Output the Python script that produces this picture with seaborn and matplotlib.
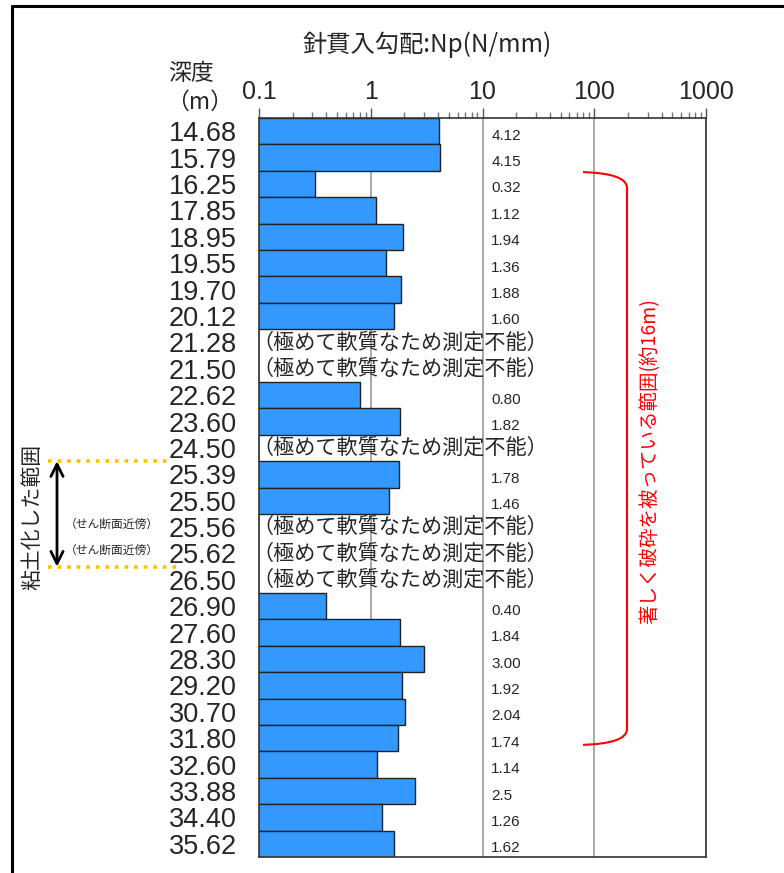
import numpy as np
import pandas as pd
import matplotlib
matplotlib.use("Agg")
import matplotlib.pyplot as plt
import matplotlib.transforms as mtransforms
from matplotlib.path import Path
from matplotlib.patches import PathPatch
from matplotlib.lines import Line2D
from matplotlib.ticker import LogLocator, NullFormatter
import seaborn as sns

# depth (m) of each sample, top to bottom
depths = ["14.68", "15.79", "16.25", "17.85", "18.95", "19.55", "19.70", "20.12",
          "21.28", "21.50", "22.62", "23.60", "24.50", "25.39", "25.50", "25.56",
          "25.62", "26.50", "26.90", "27.60", "28.30", "29.20", "30.70", "31.80",
          "32.60", "33.88", "34.40", "35.62"]
# needle penetration gradient Np (N/mm); nan = too soft to measure
np_values = [4.12, 4.15, 0.32, 1.12, 1.94, 1.36, 1.88, 1.60,
             np.nan, np.nan, 0.80, 1.82, np.nan, 1.78, 1.46, np.nan,
             np.nan, np.nan, 0.40, 1.84, 3.00, 1.92, 2.04, 1.74,
             1.14, 2.5, 1.26, 1.62]
value_labels = ["4.12", "4.15", "0.32", "1.12", "1.94", "1.36", "1.88", "1.60",
                "", "", "0.80", "1.82", "", "1.78", "1.46", "",
                "", "", "0.40", "1.84", "3.00", "1.92", "2.04", "1.74",
                "1.14", "2.5", "1.26", "1.62"]
x_ticks = [0.1, 1, 10, 100, 1000]
x_tick_labels = ["0.1", "1", "10", "100", "1000"]

df = pd.DataFrame({"depth": depths, "np": np_values})

sns.set_theme(style="white")
plt.rcParams['font.family'] = ['Liberation Sans', 'Noto Sans CJK JP']
cjk = ['Noto Sans CJK JP', 'DejaVu Sans']

W, H = 784, 873
fig = plt.figure(figsize=(W / 100, H / 100), dpi=100)
ax = fig.add_axes([259 / W, 1 - 857 / H, (706 - 259) / W, (857 - 118) / H])
ax.set_xscale('log')

sns.barplot(data=df.dropna(), x="np", y="depth", order=depths, orient="h",
            color="#3399FF", saturation=1, width=1.0,
            edgecolor="#222222", linewidth=1.0, ax=ax)

ax.set_xlim(0.1, 1000)
ax.set_ylim(len(depths) - 0.5, -0.5)
ax.set_xlabel("")
ax.set_ylabel("")

ax.xaxis.tick_top()
ax.set_xticks(x_ticks)
ax.set_xticklabels(x_tick_labels)
ax.xaxis.set_minor_locator(LogLocator(base=10, subs=np.arange(2, 10)))
ax.xaxis.set_minor_formatter(NullFormatter())
ax.tick_params(axis='x', which='major', direction='out', length=7, width=1,
               color='#555555', labelsize=18, pad=3, top=True, bottom=False)
ax.tick_params(axis='x', which='minor', direction='out', length=4, width=1,
               color='#777777', top=True, bottom=False)
ax.tick_params(axis='y', length=0, labelsize=19.5, pad=16)

ax.set_axisbelow(True)
ax.grid(axis='x', which='major', color='#999999', linewidth=1.2)
ax.grid(axis='y', visible=False)
for s in ax.spines.values():
    s.set_color('#333333')
    s.set_linewidth(1.2)

# value labels / unmeasurable notes
for i, (v, lab) in enumerate(zip(np_values, value_labels)):
    if np.isnan(v):
        ax.text(0.087, i, "（極めて軟質なため測定不能）", fontsize=15.2,
                va='center', ha='left', family=cjk)
    else:
        ax.text(12, i + 0.17, lab, fontsize=11, va='center', ha='left')

# header texts
fig.text(427 / W, 1 - 45 / H, "針貫入勾配:Np(N/mm)", ha='center', va='center',
         fontsize=17.5, family=cjk)
fig.text(191 / W, 1 - 74 / H, "深度", ha='center', va='center', fontsize=16.5, family=cjk)
fig.text(200 / W, 1 - 102 / H, "（m）", ha='center', va='center', fontsize=16.5, family=cjk)

# clay zone annotation on the left
trans_l = mtransforms.blended_transform_factory(fig.transFigure, ax.transData)
for yb, x_end in [(12.5, 172), (16.5, 176)]:
    ax.add_line(Line2D([48 / W, x_end / W], [yb, yb], transform=trans_l,
                       color='#FFC000', linestyle=':', linewidth=2.6, clip_on=False))
ax.annotate("", xy=(57 / W, 12.5), xytext=(57 / W, 16.5), xycoords=trans_l,
            textcoords=trans_l, annotation_clip=False,
            arrowprops=dict(arrowstyle='<->', color='black', lw=2,
                            mutation_scale=22, shrinkA=0, shrinkB=0))
ax.text(32 / W, 14.6, "粘土化した範囲", transform=trans_l, rotation=90,
        ha='center', va='center', fontsize=15, family=cjk, clip_on=False)
for yy in [14.9, 15.9]:
    ax.text(112 / W, yy, "（せん断面近傍）", transform=trans_l, ha='center',
            va='center', fontsize=8.5, family=cjk, clip_on=False)

# red bracket on the right
trans_r = mtransforms.blended_transform_factory(ax.transAxes, ax.transData)
x0, x1 = (583 - 259) / 447, (627 - 259) / 447
ytop, ybot = 1.55, 23.25
verts = [(x0, ytop), (x1, ytop + 0.05), (x1, ytop + 0.6),
         (x1, ybot - 0.6), (x1, ybot - 0.05), (x0, ybot)]
codes = [Path.MOVETO, Path.CURVE3, Path.CURVE3, Path.LINETO, Path.CURVE3, Path.CURVE3]
ax.add_patch(PathPatch(Path(verts, codes), transform=trans_r, fill=False,
                       edgecolor='red', linewidth=1.5, clip_on=False))
ax.text((650 - 259) / 447, 12.5, "著しく破砕を被っている範囲(約16m)", transform=trans_r,
        rotation=90, ha='center', va='center', color='red', fontsize=14,
        family=cjk, clip_on=False)

# frame lines of the figure
fig.add_artist(Line2D([12 / W, 12 / W], [0, 1 - 6 / H], transform=fig.transFigure,
                      color='black', linewidth=2.2))
fig.add_artist(Line2D([12 / W, 1], [1 - 6 / H, 1 - 6 / H], transform=fig.transFigure,
                      color='black', linewidth=2.2))

fig.savefig("out.png", dpi=100)
